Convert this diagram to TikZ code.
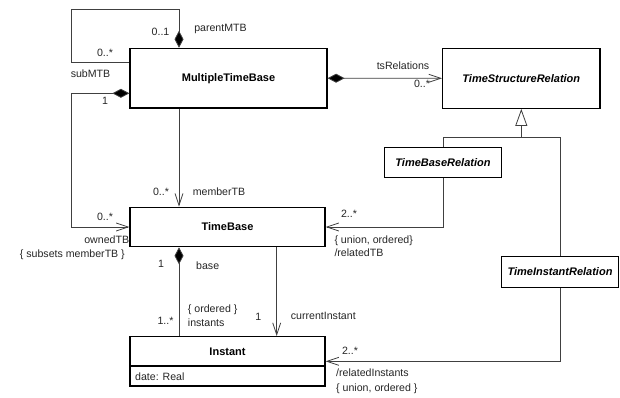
\documentclass[tikz,border=0pt]{standalone}
\usepackage{fontspec}
\setmainfont{Liberation Sans}
\usetikzlibrary{arrows.meta,calc}
\begin{document}
\begin{tikzpicture}[x=1pt,y=-1pt,
  cls/.style={draw=black, line width=1.2pt, fill=white, inner sep=0pt, font=\fontsize{11}{13}\selectfont\bfseries},
  acls/.style={cls, font=\fontsize{11}{13}\selectfont\bfseries\itshape},
  lbl/.style={inner sep=0pt, font=\fontsize{10.6}{12}\selectfont, text=black!85, text height=7.5pt, text depth=2pt},
  conn/.style={draw=black!75, line width=0.8pt},
  dtip/.tip={Diamond[length=17pt,width=9pt,fill=black]},
  otip/.tip={Straight Barb[length=12pt,width=8pt]},
  comp/.style={conn, {dtip}-},
  nav/.style={conn, -{otip}},
  compnav/.style={conn, {dtip}-{otip}},
  gen/.style={conn, -{Triangle[open,length=17pt,width=12pt,fill=white]}}]
\fill[white] (0,0) rectangle (620,398);
\useasboundingbox (0,0) rectangle (620,398);

% classes
\node[cls, minimum width=197pt, minimum height=59.7pt] (mtb) at (228.5,78.2) {MultipleTimeBase};
\node[acls, minimum width=157.3pt, minimum height=60pt] (tsr) at (521.3,78.3) {TimeStructureRelation};
\node[acls, minimum width=117.4pt, minimum height=30pt] (tbr) at (443,162.3) {TimeBaseRelation};
\node[acls, minimum width=116.6pt, minimum height=30.6pt] (tir) at (560,272) {TimeInstantRelation};
\node[cls, minimum width=195pt, minimum height=39.4pt] (tb) at (227.5,227) {TimeBase};
\node[cls, minimum width=195pt, minimum height=49.3pt] (inst) at (227.5,361.35) {};
\node[inner sep=0pt, font=\fontsize{11}{13}\selectfont\bfseries] (instname) at (227.5,351.3) {Instant};
\coordinate (divy) at (0,366);
\draw[line width=1.2pt] (inst.west |- divy) -- (inst.east |- divy);
\node[lbl, anchor=west] (attr) at (135,377.5) {date: Real};

% helper coordinates
\coordinate (loopA) at (179,9.3);
\coordinate (loopB) at (71.7,62.7);
\coordinate (ownA) at (71.7,93.3);
\coordinate (mx) at (179,0);
\coordinate (cx) at (276.7,0);
\coordinate (gj) at (521.3,137.3);

% connectors
\draw[comp] (loopA |- mtb.north) -- (loopA) -| (loopB) -- (loopB -| mtb.west);
\draw[compnav] (ownA -| mtb.west) -- (ownA) |- (tb.west);
\draw[nav] (mtb.south -| mx) -- (tb.north -| mx);
\draw[comp] (tb.south -| mx) -- (inst.north -| mx);
\draw[nav] (tb.south -| cx) -- (inst.north -| cx);
\draw[compnav] (mtb.east) -- (tsr.west);
\draw[gen] (gj) -- (tsr.south);
\draw[conn] (tbr.north) |- (gj) -| (tir.north);
\draw[nav] (tbr.south) |- (tb.east);
\draw[nav] (tir.south) |- (inst.east);

% labels
\node[lbl] (l01) at (160.5,32.3) {0..1};
\node[lbl] (l02) at (220.5,28.3) {parentMTB};
\node[lbl] (l03) at (105,53.3) {0..*};
\node[lbl] (l04) at (90.5,75) {subMTB};
\node[lbl] (l05) at (105,101.7) {1};
\node[lbl] (l06) at (161,192.7) {0..*};
\node[lbl] (l07) at (219,193) {memberTB};
\node[lbl] (l08) at (105,217.3) {0..*};
\node[lbl, anchor=east] (l09) at (129.3,240.7) {ownedTB};
\node[lbl, anchor=east] (l10) at (125,255) {\{ subsets memberTB \}};
\node[lbl] (l11) at (161,265) {1};
\node[lbl] (l12) at (207.7,266.7) {base};
\node[lbl] (l13) at (165.5,321.7) {1..*};
\node[lbl, anchor=west] (l14) at (187.7,310) {\{ ordered \}};
\node[lbl, anchor=west] (l15) at (187.7,323.3) {instants};
\node[lbl] (l16) at (258.3,317.7) {1};
\node[lbl, anchor=west] (l17) at (290.7,316.7) {currentInstant};
\node[lbl] (l18) at (403,66.7) {tsRelations};
\node[lbl] (l19) at (422,85) {0..*};
\node[lbl] (l20) at (349,215) {2..*};
\node[lbl, anchor=west] (l21) at (334.3,240.7) {\{ union, ordered\}};
\node[lbl, anchor=west] (l22) at (334.3,253.3) {/relatedTB};
\node[lbl] (l23) at (350,351.7) {2..*};
\node[lbl, anchor=west] (l24) at (336,374) {/relatedInstants};
\node[lbl, anchor=west] (l25) at (336,388.3) {\{ union, ordered \}};
\end{tikzpicture}
\end{document}
